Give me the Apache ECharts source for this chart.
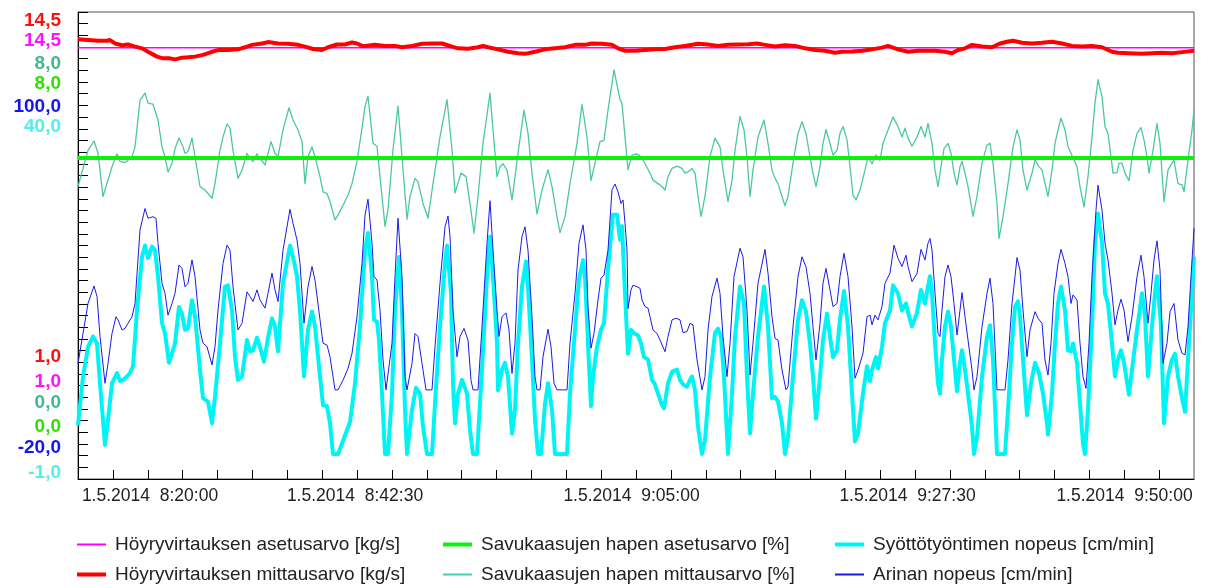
<!DOCTYPE html>
<html>
<head>
<meta charset="utf-8">
<script src="https://cdn.jsdelivr.net/npm/echarts@6/dist/echarts.min.js"></script>
<style>
html,body{margin:0;padding:0;background:#fff;}
#chart{width:1210px;height:588px;}
</style>
</head>
<body>
<div id="chart"></div>
<script>
// x values are sample indices (axis spans 0..1116)
const xSpan = [0, 1116];
const xLabelPos = [72, 277, 553.5, 829.5, 1046.5];
const xLabels = ['1.5.2014  8:20:00', '1.5.2014  8:42:30', '1.5.2014  9:05:00', '1.5.2014  9:27:30', '1.5.2014  9:50:00'];

// y scales: steam meas, steam set, O2 meas, O2 set, grate speed, feeder speed
const axisMin = [1.0, 1.0, 0.0, 0.0, -20.0, -1.0];
const axisMax = [14.5, 14.5, 8.0, 8.0, 100.0, 40.0];

const seriesNames = [
  'Höyryvirtauksen asetusarvo [kg/s]',
  'Höyryvirtauksen mittausarvo [kg/s]',
  'Savukaasujen hapen asetusarvo [%]',
  'Savukaasujen hapen mittausarvo [%]',
  'Syöttötyöntimen nopeus [cm/min]',
  'Arinan nopeus [cm/min]'
];

const steamSet = [[0, 13.47], [1116, 13.47]];
const o2Set = [[0, 5.5], [1116, 5.5]];

const steamMeas = [[0,13.71],[10,13.69],[20,13.67],[29,13.67],[32,13.69],[37,13.59],[44,13.54],[50,13.56],[57,13.50],[64,13.45],
[70,13.35],[79,13.21],[85,13.16],[92,13.16],[97,13.13],[104,13.18],[110,13.19],[117,13.21],[125,13.26],[134,13.35],
[140,13.40],[150,13.40],[160,13.42],[167,13.48],[174,13.55],[184,13.59],[190,13.63],[200,13.59],[210,13.58],[220,13.55],
[227,13.50],[235,13.43],[244,13.40],[250,13.48],[259,13.56],[267,13.56],[274,13.62],[279,13.59],[284,13.52],[287,13.52],
[297,13.55],[307,13.52],[317,13.52],[324,13.48],[334,13.52],[344,13.58],[354,13.59],[364,13.59],[374,13.50],[380,13.45],
[390,13.44],[400,13.48],[405,13.52],[410,13.48],[420,13.42],[430,13.35],[440,13.31],[447,13.29],[457,13.35],[467,13.42],
[477,13.45],[487,13.48],[497,13.55],[507,13.55],[514,13.59],[524,13.58],[534,13.55],[540,13.45],[547,13.38],[557,13.38],
[567,13.40],[577,13.42],[587,13.43],[597,13.48],[607,13.52],[620,13.58],[630,13.56],[640,13.52],[650,13.55],[660,13.56],
[670,13.57],[679,13.59],[687,13.55],[697,13.50],[707,13.54],[717,13.52],[727,13.45],[737,13.40],[747,13.38],[757,13.32],
[764,13.35],[774,13.36],[784,13.38],[794,13.42],[804,13.47],[810,13.52],[820,13.42],[830,13.35],[840,13.38],[847,13.38],
[857,13.38],[867,13.35],[874,13.31],[880,13.40],[887,13.45],[894,13.55],[904,13.50],[914,13.48],[922,13.59],[929,13.64],
[935,13.67],[944,13.61],[954,13.59],[964,13.61],[974,13.64],[984,13.59],[994,13.52],[1004,13.50],[1014,13.52],[1024,13.48],
[1034,13.35],[1040,13.32],[1050,13.31],[1064,13.29],[1074,13.31],[1084,13.32],[1094,13.31],[1104,13.34],[1116,13.38]];

const o2Meas = [[0,5.01],[10,5.63],[16,5.79],[20,5.58],[25,4.84],[27,4.87],[34,5.35],[39,5.57],[42,5.44],[44,5.46],
[47,5.42],[50,5.46],[54,5.52],[57,5.69],[62,6.49],[67,6.61],[70,6.44],[75,6.42],[80,6.15],[84,5.69],
[87,5.52],[90,5.26],[94,5.41],[97,5.66],[101,5.84],[105,5.69],[107,5.58],[110,5.61],[114,5.84],[117,5.52],
[122,5.01],[127,4.95],[130,4.89],[134,4.81],[137,5.06],[142,5.63],[145,5.86],[149,6.08],[152,6.01],[155,5.63],
[160,5.15],[164,5.29],[169,5.58],[172,5.49],[175,5.44],[179,5.57],[182,5.49],[187,5.38],[190,5.58],[193,5.78],
[197,5.58],[200,5.52],[205,5.98],[211,6.36],[215,6.15],[220,5.98],[224,5.78],[227,5.06],[230,5.52],[234,5.69],
[237,5.52],[242,5.18],[245,4.92],[249,4.89],[252,4.75],[257,4.44],[260,4.52],[265,4.69],[270,4.86],[274,5.06],
[279,5.44],[284,6.01],[287,6.38],
[290,6.56],[295,5.75],[299,5.70],[302,5.18],[307,4.33],[310,4.61],[315,5.64],[320,6.39],[324,5.52],[329,4.45],
[332,4.84],[337,5.15],[340,5.09],[345,4.72],[350,4.47],[355,5.06],[362,5.86],[369,6.50],[374,5.64],[377,4.90],
[383,5.24],[388,5.18],[392,4.72],[396,4.21],[400,4.84],[405,5.75],[412,6.61],[415,5.98],[419,5.18],[422,5.35],
[425,5.40],[429,5.29],[434,4.78],[440,5.58],[446,6.32],[450,5.92],[454,5.24],[459,4.54],[464,4.95],[470,5.30],
[474,5.01],[479,4.49],[482,4.22],[487,4.49],[492,5.06],[499,5.75],[504,6.42],[509,5.86],[513,5.11],[517,5.41],
[522,5.78],[526,5.80],[530,6.32],[536,7.01],[542,6.50],[544,6.43],[547,5.86],[550,5.30],[554,5.55],[559,5.57],
[563,5.52],
[567,5.40],[572,5.24],[575,5.12],[580,5.06],[584,5.01],[587,4.95],[590,5.18],[594,5.32],[599,5.36],[604,5.32],
[607,5.24],[610,5.26],[614,5.32],[617,5.24],[620,4.84],[623,4.50],[627,4.84],[632,5.52],[637,5.84],[642,5.69],
[645,5.29],[650,4.75],[654,5.12],[657,5.63],[662,6.21],[666,5.98],[669,5.52],[672,4.84],[675,5.29],[680,5.86],
[686,6.15],[690,5.75],[694,5.29],[697,5.15],[700,5.06],[704,4.84],[707,4.68],[710,4.84],[715,5.41],[720,5.92],
[724,6.12],[728,5.92],[732,5.52],[735,5.24],[738,5.01],[742,5.35],[745,5.75],[748,5.99],[752,5.75],[755,5.55],
[759,5.63],[762,5.92],[765,6.04],[769,5.81],[772,5.35],[775,4.86],[778,4.78],[782,4.95],[787,5.29],[790,5.52],
[794,5.40],[798,5.55],[802,5.46],[805,5.75],[810,5.98],[815,6.20],[820,6.04],[824,5.86],[827,6.01],[830,5.84],
[834,5.70],[839,5.86],[843,6.04],[847,5.86],
[850,6.09],[854,5.75],[857,5.29],[860,5.01],[863,5.35],[866,5.66],[870,5.75],[873,5.58],[876,5.24],[879,5.04],
[882,5.35],[884,5.44],[887,5.24],[890,5.01],[894,4.61],[895,4.50],[899,4.84],[904,5.41],[909,5.72],[912,5.75],
[915,5.41],[919,4.72],[921,4.12],[925,4.49],[930,5.06],[935,5.69],[939,5.98],[942,5.81],[945,5.29],[949,4.95],
[954,5.24],[957,5.46],[961,5.35],[964,5.29],[967,5.06],[970,4.84],[974,5.29],[977,5.75],[980,5.98],[983,6.18],
[987,5.98],[990,5.69],[993,5.58],[995,5.61],[999,5.35],[1002,5.01],[1006,4.66],[1010,5.18],[1014,5.86],[1017,6.44],
[1020,6.84],[1024,6.55],[1027,6.04],[1030,5.92],[1033,5.52],[1035,5.24],[1039,5.25],[1041,5.41],[1044,5.41],[1047,5.24],
[1051,5.11],[1055,5.63],[1059,5.92],[1063,6.02],[1066,5.81],[1069,5.52],[1071,5.24],[1075,5.63],[1079,6.09],[1082,5.75],
[1086,4.75],[1090,5.29],[1094,5.41],[1096,5.46],[1100,5.06],[1104,5.04],[1106,4.92],[1110,5.46],[1114,5.98],[1116,6.33]];

const grateSpeed = [[0,9.7],[10,25.1],[16,29.6],[19,26.9],[22,16.6],[27,4.6],[30,9.7],[34,17.4],[38,21.7],[40,20.9],
[44,18.3],[47,18.7],[50,20.0],[54,21.7],[57,25.1],[62,44.0],[67,49.5],[70,47.0],[75,47.4],[78,47.0],
[80,40.5],[84,30.3],[87,27.7],[90,22.1],[94,25.1],[97,27.7],[101,35.0],[104,34.1],[107,29.4],[110,30.3],
[114,36.3],[117,32.0],[122,18.3],[125,14.9],[129,14.0],[134,9.3],[137,14.0],[140,23.4],[145,35.4],[149,40.1],
[152,38.8],[155,29.4],[160,18.3],[164,20.0],[169,28.1],[172,26.9],[175,25.6],[179,28.6],[182,26.0],[187,23.9],
[190,27.7],[194,32.9],[197,28.6],[200,25.6],[205,38.8],[212,49.3],[215,45.7],[219,41.4],[222,35.4],[226,20.0],
[230,29.4],[234,34.6],[237,31.1],[242,20.9],[245,14.9],[249,14.4],[252,11.4],[257,2.9],[260,2.9],[265,5.4],
[270,8.4],[274,12.3],[279,21.7],[284,35.4],[287,47.8],
[290,51.9],[294,40.6],[296,32.0],[299,31.1],[302,23.4],[305,10.6],[308,2.9],[310,2.9],[314,14.9],[317,32.0],
[320,47.0],[324,32.0],[327,6.3],[329,2.9],[331,2.9],[334,9.7],[337,17.4],[340,16.6],[344,9.7],[348,2.9],
[354,2.9],[357,14.0],[362,30.3],[367,44.8],[370,47.6],[372,42.3],[375,23.4],[379,11.4],[382,16.6],[386,18.7],
[390,15.7],[393,5.4],[395,2.9],[400,2.9],[404,19.1],[409,40.6],[412,51.5],[415,38.8],[419,23.4],[421,16.6],
[424,21.7],[428,22.7],[431,18.3],[434,7.1],[437,14.9],[440,33.7],[444,42.3],[447,44.8],[450,38.8],[454,21.7],
[457,6.3],[459,2.9],[462,2.9],[465,11.4],[470,18.5],[473,14.0],[476,4.6],[479,2.9],[489,2.9],[492,14.9],
[497,27.7],[501,40.6],[505,45.3],[508,38.8],[510,24.3],[513,13.6],[516,17.4],[520,26.0],[523,31.6],[526,32.4],
[530,38.8],[534,54.3],[537,55.8],[540,53.8],[543,50.8],[545,51.7],[547,45.7],[549,38.8],[550,23.8],[553,28.6],
[555,29.8],[559,29.4],[562,29.0],[564,26.0],[567,24.3],
[570,23.9],[572,21.7],[575,18.3],[579,17.4],[582,15.7],[587,12.7],[590,16.6],[594,20.9],[598,21.3],[602,20.9],
[605,17.6],[609,17.9],[612,20.0],[615,19.6],[619,10.6],[624,2.9],[627,6.3],[630,18.3],[634,26.9],[639,31.6],
[642,27.7],[645,16.6],[649,6.3],[652,14.9],[656,32.0],[662,39.3],[665,37.1],[669,23.4],[672,6.7],[675,14.9],
[680,30.3],[687,39.0],[690,32.9],[694,21.7],[697,16.1],[700,15.7],[704,8.0],[708,2.9],[710,3.7],[715,19.1],
[720,32.0],[724,37.1],[728,34.5],[732,27.7],[735,19.1],[738,10.6],[742,20.0],[745,30.3],[748,34.1],[752,28.6],
[755,24.3],[759,25.1],[762,32.0],[766,38.0],[770,32.0],[774,19.1],[777,5.9],[780,8.0],[785,12.3],[789,21.7],
[792,22.1],[794,19.6],[797,22.1],[800,20.9],[804,24.3],[807,30.3],[812,32.9],[816,40.1],[820,36.7],[824,34.6],
[828,37.5],[830,34.6],[834,30.7],[839,32.8],[843,39.0],[847,36.3],
[850,40.6],[852,41.8],[854,38.8],[857,27.7],[860,17.4],[862,16.6],[864,23.4],[867,32.0],[870,35.0],[873,32.0],
[876,25.1],[879,17.0],[882,23.4],[884,27.9],[887,21.7],[890,15.7],[894,8.0],[896,2.9],[899,6.3],[904,19.1],
[909,27.7],[912,31.6],[915,25.1],[919,2.9],[927,2.9],[930,10.6],[934,25.1],[937,32.0],[939,36.9],[942,33.7],
[945,23.4],[949,11.4],[952,18.3],[957,23.0],[960,21.3],[964,20.0],[967,10.6],[970,6.7],[973,14.9],[976,27.7],
[980,35.4],[983,39.0],[987,35.4],[990,32.0],[993,25.1],[995,27.3],[999,26.0],[1002,14.9],[1005,6.3],[1008,3.3],
[1011,14.9],[1014,32.0],[1018,49.1],[1020,55.5],[1024,49.1],[1027,40.6],[1030,36.3],[1034,27.7],[1037,19.6],[1040,23.4],
[1043,26.2],[1046,23.4],[1050,15.3],[1054,21.7],[1059,32.0],[1063,37.5],[1066,32.0],[1070,20.0],[1073,27.7],[1076,36.3],
[1079,41.2],[1082,33.7],[1085,9.7],[1089,14.9],[1092,23.0],[1096,25.1],[1100,15.7],[1104,12.3],[1107,11.9],[1110,19.1],
[1113,32.0],[1116,44.4]];

const feederSpeed = [[0,3.7],[5,8.0],[10,10.6],[15,11.5],[19,10.9],[22,7.4],[27,2.0],[30,4.2],[34,7.4],[39,8.3],
[42,7.6],[45,7.7],[49,8.0],[52,8.3],[55,8.9],[59,13.8],[64,18.5],[67,19.5],[70,18.4],[74,19.4],
[77,19.1],[80,16.8],[84,12.7],[87,11.8],[91,9.2],[94,10.0],[97,10.9],[101,14.1],[104,13.5],[107,12.1],
[110,12.2],[114,14.7],[117,13.3],[122,8.6],[125,6.1],[130,5.8],[134,3.9],[137,6.2],[142,10.9],[147,15.9],
[150,16.0],[154,13.8],[157,9.7],[160,7.7],[164,8.0],[169,11.2],[172,10.2],[175,10.3],[179,11.4],[182,10.6],
[186,9.3],[190,11.4],[194,13.1],[197,12.4],[200,10.2],[205,16.2],[212,19.5],[215,18.5],[219,16.8],[222,13.8],
[226,8.0],[230,12.1],[234,13.7],[237,12.4],[242,8.0],[245,5.5],[249,5.4],[252,3.9],[255,1.2],[260,1.2],
[264,2.1],[269,3.3],[272,4.0],[277,7.4],[282,12.4],[287,19.1],
[290,20.6],[294,16.8],[296,13.0],[299,12.8],[301,11.2],[304,6.5],[307,1.2],[310,1.2],[314,6.5],[317,13.8],
[321,18.5],[324,13.8],[327,5.1],[329,1.2],[331,1.2],[334,5.1],[338,7.0],[342,6.5],[345,3.6],[349,1.2],
[354,1.2],[357,5.6],[362,12.4],[367,17.9],[369,19.5],[373,15.3],[375,7.4],[377,3.9],[380,6.5],[384,7.7],
[389,6.5],[392,3.3],[395,1.2],[399,1.2],[404,8.6],[409,16.8],[412,20.3],[415,16.8],[419,10.9],[420,6.8],
[424,8.6],[427,9.2],[430,8.0],[434,3.0],[437,5.1],[440,10.9],[444,15.9],[448,18.1],[450,15.9],[454,9.5],
[457,4.2],[460,1.2],[463,1.2],[467,5.6],[470,7.4],[474,5.1],[477,1.2],[489,1.2],[492,6.5],[497,12.1],
[501,16.5],[505,18.2],[507,16.8],[510,10.9],[513,5.4],[515,8.0],[519,10.6],[523,12.1],[526,12.7],[530,17.4],
[535,22.2],[539,22.2],[542,20.0],[544,21.2],[547,15.3],[550,10.0],[553,12.1],[556,11.8],[560,11.6],[563,10.9],
[566,9.7],
[570,9.5],[574,7.7],[577,7.3],[580,6.5],[584,5.5],[586,5.2],[590,7.4],[594,8.4],[599,8.6],[602,7.7],
[605,7.3],[609,7.1],[612,7.7],[614,8.0],[617,6.8],[620,3.6],[624,1.2],[627,2.4],[632,8.0],[637,11.8],
[640,12.2],[643,11.5],[646,8.0],[650,1.2],[654,6.5],[657,11.5],[662,15.9],[666,14.4],[669,8.0],[672,3.0],
[675,6.5],[680,11.5],[686,15.9],[690,12.4],[694,6.1],[697,6.2],[700,5.8],[704,3.9],[707,1.2],[710,2.7],
[715,8.0],[720,13.0],[724,14.7],[728,13.7],[732,10.9],[735,8.0],[738,4.3],[742,8.0],[745,11.2],[749,13.5],
[752,11.5],[755,9.7],[759,10.3],[762,13.0],[766,15.5],[770,12.4],[774,6.5],[777,2.3],[780,3.0],[785,6.5],
[789,8.9],[792,7.6],[794,8.6],[798,9.7],[800,8.7],[804,10.6],[807,12.7],[812,13.8],[815,16.0],[820,15.3],
[824,13.8],[828,14.4],[831,13.3],[834,12.4],[839,13.6],[843,15.6],[847,14.4],
[850,15.9],[852,16.8],[854,15.3],[857,10.9],[860,7.4],[862,6.5],[864,9.5],[867,12.4],[870,13.7],[873,12.4],
[876,9.5],[879,6.7],[882,9.2],[884,10.3],[887,8.6],[890,6.5],[894,3.6],[896,1.2],[899,2.7],[904,8.0],
[909,11.5],[912,12.5],[915,9.5],[919,1.2],[927,1.2],[930,5.1],[934,10.9],[937,14.1],[940,14.6],[942,13.3],
[945,9.5],[949,4.6],[953,7.4],[957,9.2],[961,8.3],[965,6.5],[969,3.9],[970,2.9],[974,6.5],[977,10.9],
[980,14.4],[983,15.9],[987,13.8],[990,10.3],[993,10.2],[995,10.9],[999,9.2],[1002,5.6],[1005,2.1],[1007,1.2],
[1010,5.1],[1014,12.4],[1017,19.7],[1020,22.3],[1024,19.7],[1027,15.3],[1030,14.4],[1034,10.9],[1037,8.0],[1040,9.5],
[1043,10.3],[1046,9.2],[1051,6.4],[1054,8.6],[1059,12.1],[1064,15.3],[1067,13.3],[1070,8.0],[1074,12.4],[1077,15.3],
[1079,16.8],[1083,12.4],[1086,3.9],[1090,8.0],[1094,9.5],[1097,10.0],[1100,8.0],[1104,6.1],[1107,4.9],[1110,9.5],
[1114,15.3],[1116,18.5]];

// ---- layout / style ----
const FONT = '"Liberation Sans", Arial, sans-serif';
const gridTop = 12, gridBottom = 109, gridLeft = 78, gridRight = 16;
const plotH = 588 - gridTop - gridBottom;
const labelColors = ['#ff1010', '#ff10ff', '#40b890', '#30e000', '#1515ee', '#50eeee'];
const topOff = [9, 29, 52, 72, 95, 115];
const botOff = [122, 97, 76, 52, 31, 6];
const fmt = v => v.toFixed(1).replace('.', ',');

const yAxes = axisMin.map((mn, i) => {
  const mx = axisMax[i];
  const span = mx - mn;
  const lo = mn + span * botOff[i] / plotH;
  const hi = mx - span * topOff[i] / plotH;
  return {
    type: 'value', min: mn, max: mx, position: 'left', offset: 0,
    axisLine: {show: false}, axisTick: {show: false}, splitLine: {show: false},
    axisLabel: {
      customValues: [lo, hi],
      formatter: v => (v > (mn + mx) / 2 ? fmt(mx) : fmt(mn)),
      color: labelColors[i], fontWeight: 'bold', fontSize: 19, fontFamily: FONT, margin: 17
    }
  };
});
// frame axis carrying the 40 inner ticks
yAxes.push({
  type: 'value', min: 0, max: 40, interval: 1, position: 'left',
  axisLine: {show: true, lineStyle: {color: '#000', width: 1}},
  axisTick: {show: true, inside: true, length: 10, lineStyle: {color: '#000', width: 1}},
  axisLabel: {show: false}, splitLine: {show: false}
});

const nTicks = 32;
const xTickVals = [];
for (let k = 1; k < nTicks; k++) xTickVals.push(xSpan[0] + (xSpan[1] - xSpan[0]) * k / nTicks);

function nearestLabel(v) {
  let best = 0;
  for (let i = 1; i < xLabelPos.length; i++) if (Math.abs(xLabelPos[i] - v) < Math.abs(xLabelPos[best] - v)) best = i;
  return xLabels[best];
}

const lineDefs = [
  {data: steamSet, y: 1, color: '#ff00ff', w: 1.5},
  {data: steamMeas, y: 0, color: '#ff0000', w: 4},
  {data: o2Meas, y: 2, color: '#4cc8a0', w: 1.3},
  {data: o2Set, y: 3, color: '#11ee11', w: 4},
  {data: feederSpeed, y: 5, color: '#00f4f4', w: 4},
  {data: grateSpeed, y: 4, color: '#1a1ae8', w: 1}
];
const series = lineDefs.map((d, i) => ({
  name: seriesNames[i], type: 'line', yAxisIndex: d.y, xAxisIndex: 0,
  data: d.data, showSymbol: false, symbol: 'none', animation: false,
  lineStyle: {color: d.color, width: d.w, join: 'round'}, itemStyle: {color: d.color}
}));

// legends: 3 columns x 2 rows
const legCols = [77, 443, 835];
const legRows = [535, 565];
const legItems = [
  {name: seriesNames[0], col: 0, row: 0, h: 2, color: '#ff00ff'},
  {name: seriesNames[1], col: 0, row: 1, h: 4, color: '#ff0000'},
  {name: seriesNames[2], col: 1, row: 0, h: 4, color: '#11ee11'},
  {name: seriesNames[3], col: 1, row: 1, h: 2, color: '#40d0b8'},
  {name: seriesNames[4], col: 2, row: 0, h: 4, color: '#00f4f4'},
  {name: seriesNames[5], col: 2, row: 1, h: 2, color: '#1a1ae8'}
];
const legends = legItems.map(it => ({
  show: true, left: legCols[it.col], top: legRows[it.row], orient: 'horizontal',
  data: [{name: it.name, icon: 'rect', itemStyle: {color: it.color}}],
  itemWidth: 29, itemHeight: it.h, selectedMode: false, padding: 0,
  textStyle: {fontSize: 19, fontFamily: FONT, color: '#222', padding: [0, 0, 0, 4]}
}));

const chart = echarts.init(document.getElementById('chart'), null, {renderer: 'canvas'});
chart.setOption({
  animation: false,
  backgroundColor: '#fff',
  grid: {left: gridLeft, right: gridRight, top: gridTop, bottom: gridBottom, show: true, borderColor: '#555', borderWidth: 1, containLabel: false},
  xAxis: {
    type: 'value', min: xSpan[0], max: xSpan[1],
    axisLine: {show: true, onZero: false, lineStyle: {color: '#000', width: 1}},
    axisTick: {show: true, inside: true, length: 9, customValues: xTickVals, lineStyle: {color: '#000'}},
    axisLabel: {customValues: xLabelPos, formatter: v => nearestLabel(v), fontSize: 17.5, fontFamily: FONT, color: '#222', margin: 8},
    splitLine: {show: false}
  },
  yAxis: yAxes,
  legend: legends,
  series: series
});
</script>
</body>
</html>
